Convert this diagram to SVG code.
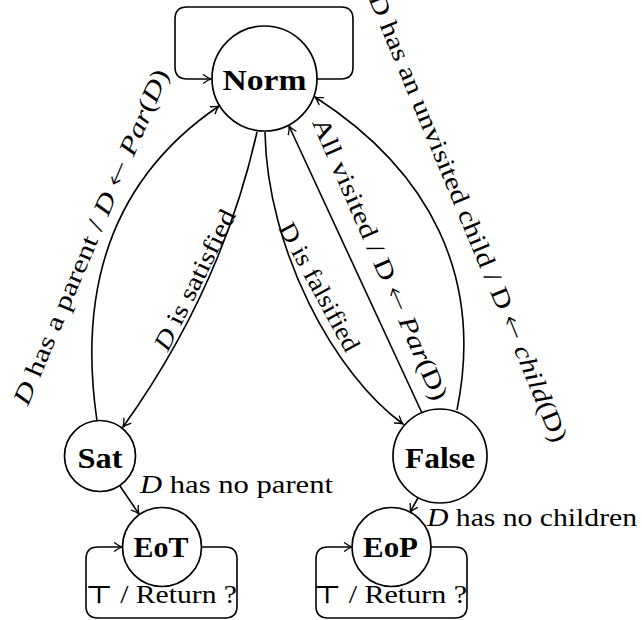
<svg xmlns="http://www.w3.org/2000/svg" width="642" height="620" viewBox="0 0 642 620">
<style>
.node circle{fill:#fff;stroke:#000;stroke-width:1.7}
.nl{font-family:"Liberation Serif","DejaVu Serif",serif;font-weight:bold;font-size:30px;text-anchor:middle;fill:#000}
.edge{fill:none;stroke:#000;stroke-width:1.6;marker-end:url(#arr)}
.el{font-family:"Liberation Serif","DejaVu Serif",serif;font-size:25px;fill:#000}
.sl{text-anchor:middle}
.it{font-style:italic}
.ar{font-family:"DejaVu Sans",sans-serif;font-weight:200}
</style>
<defs>
<marker id="arr" viewBox="-10 -6 12 12" markerWidth="12" markerHeight="12" refX="0" refY="0" orient="auto" markerUnits="userSpaceOnUse" overflow="visible">
<path d="M-7.5,-4.2 Q-3,-0.9 0,0 Q-3,0.9 -7.5,4.2" fill="none" stroke="#000" stroke-width="1.3" stroke-linecap="round"/>
</marker>
</defs>
<g id="connectors">
<path class="edge" d="M317,79 H341 Q353,79 353,67 V19 Q353,7 341,7 H187 Q175,7 175,19 V67 Q175,79 187,79 H211"/>
<path class="edge" d="M97,421 C78,291 110,180 219,106"/>
<path class="edge" d="M257,132 C233,239 186,339 123,427"/>
<path class="edge" d="M265,132 C267,250 335,375 403,424"/>
<path class="edge" d="M422,413 L289,126"/>
<path class="edge" d="M457,410 C484,277 430,171 315,97"/>
<path class="edge" d="M120,486 L139,514"/>
<path class="edge" d="M418,498 L410,512"/>
<path class="edge" d="M201.5,547 H225 Q237,547 237,559 V606 Q237,618 225,618 H98 Q86,618 86,606 V559 Q86,547 98,547 H122"/>
<path class="edge" d="M431,547 H455 Q467,547 467,559 V606 Q467,618 455,618 H328 Q316,618 316,606 V559 Q316,547 328,547 H352"/>
<g id="edge-labels">
<text class="el sl" transform="translate(91,237) rotate(-67)" y="8" textLength="362" lengthAdjust="spacingAndGlyphs"><tspan class="it">D</tspan> has a parent / <tspan class="it">D</tspan> <tspan class="ar">←</tspan> <tspan class="it">Par</tspan>(<tspan class="it">D</tspan>)</text>
<text class="el sl" transform="translate(195,280) rotate(-63.5)" y="8" textLength="154" lengthAdjust="spacingAndGlyphs"><tspan class="it">D</tspan> is satisfied</text>
<text class="el sl" transform="translate(319,287) rotate(61.6)" y="8" textLength="143" lengthAdjust="spacingAndGlyphs">D is falsified</text>
<text class="el sl" transform="translate(380,259) rotate(66.5)" y="8" textLength="305" lengthAdjust="spacingAndGlyphs">All visited / D <tspan class="ar">←</tspan> <tspan class="it">Par</tspan>(D)</text>
<text class="el sl" transform="translate(468,218) rotate(67.5)" y="8" textLength="483" lengthAdjust="spacingAndGlyphs">D has an unvisited child / D <tspan class="ar">←</tspan> <tspan class="it">child</tspan>(D)</text>
<text class="el" x="140" y="493" textLength="193" lengthAdjust="spacingAndGlyphs"><tspan class="it">D</tspan> has no parent</text>
<text class="el" x="427" y="526" textLength="210" lengthAdjust="spacingAndGlyphs"><tspan class="it">D</tspan> has no children</text>
<text class="el" x="85" y="603" textLength="152" lengthAdjust="spacingAndGlyphs">⊤ / Return ?</text>
<text class="el" x="313" y="603" textLength="154" lengthAdjust="spacingAndGlyphs">⊤ / Return ?</text>
</g>
</g>
<g id="Norm" class="node"><circle cx="264.5" cy="78.5" r="52.5"/><text class="nl" x="264.5" y="90" textLength="84" lengthAdjust="spacingAndGlyphs">Norm</text></g>
<g id="Sat" class="node"><circle cx="100" cy="456" r="35.5"/><text class="nl" x="100" y="468" textLength="45" lengthAdjust="spacingAndGlyphs">Sat</text></g>
<g id="False" class="node"><circle cx="440" cy="456" r="47"/><text class="nl" x="440" y="468" textLength="70" lengthAdjust="spacingAndGlyphs">False</text></g>
<g id="EoT" class="node"><circle cx="162" cy="547" r="39.5"/><text class="nl" x="161" y="557" textLength="55" lengthAdjust="spacingAndGlyphs">EoT</text></g>
<g id="EoP" class="node"><circle cx="391.5" cy="547" r="39.5"/><text class="nl" x="390.5" y="557" textLength="55" lengthAdjust="spacingAndGlyphs">EoP</text></g>
</svg>
